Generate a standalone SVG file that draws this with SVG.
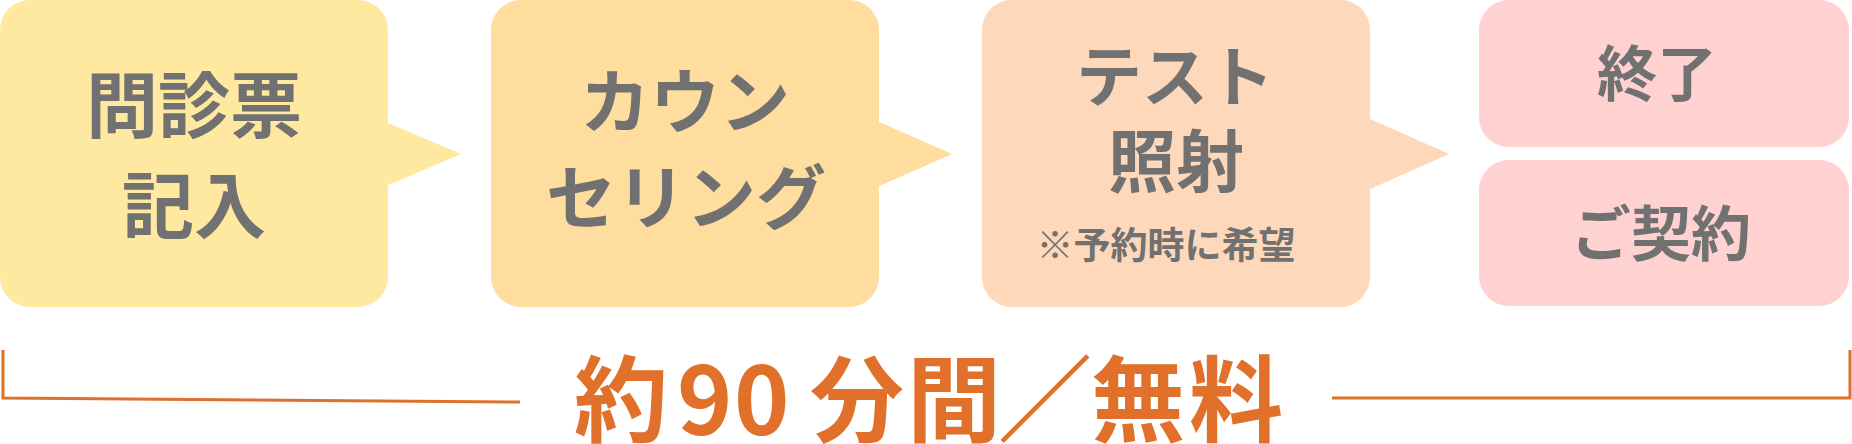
<svg xmlns="http://www.w3.org/2000/svg" width="1852" height="444" viewBox="0 0 1852 444">
<style>
.t{font-family:"Noto Sans CJK JP","Noto Sans CJK SC",sans-serif;font-weight:700;fill:#717171;text-anchor:middle}
.b1{fill:#FFE9A0}.b2{fill:#FEDD9E}.b3{fill:#FDD8BA}.b4{fill:#FFD1D1}
.ln{stroke:#DC712C;stroke-width:3;fill:none}
.big{font-family:"Noto Sans CJK JP","Noto Sans CJK SC",sans-serif;font-weight:700;fill:#E0702A}
</style>
<rect width="1852" height="444" fill="#FFFFFF"/>
<g id="node-monshinhyo">
<rect class="b1" x="0" y="0" width="388" height="307" rx="30"/>
<polygon class="b1" points="386,122 461,154 386,186"/>
<text class="t" x="194" y="132" font-size="72">問診票</text>
<text class="t" x="194" y="232" font-size="72">記入</text>
</g>
<g id="node-counseling">
<rect class="b2" x="491" y="0" width="388" height="307" rx="30"/>
<polygon class="b2" points="877,121 952,154 877,187"/>
<text class="t" x="685" y="128" font-size="70">カウン</text>
<text class="t" x="686" y="224" font-size="70">セリング</text>
</g>
<g id="node-test">
<rect class="b3" x="982" y="0" width="388" height="307" rx="30"/>
<polygon class="b3" points="1368,118 1449,154 1368,190"/>
<text class="t" x="1175" y="101" font-size="66">テスト</text>
<text class="t" x="1176" y="187" font-size="68">照射</text>
<text class="t" x="1166" y="259" font-size="37">※予約時に希望</text>
</g>
<g id="node-end">
<rect class="b4" x="1479" y="0" width="370" height="147" rx="30"/>
<text class="t" x="1657" y="96" font-size="60">終了</text>
</g>
<g id="node-contract">
<rect class="b4" x="1479" y="160" width="370" height="146" rx="30"/>
<text class="t" x="1661" y="256" font-size="60">ご契約</text>
</g>
<g id="connectors">
<polyline class="ln" points="3,350 3,398 520,402"/>
<polyline class="ln" points="1332,398 1850,398 1850,350"/>
</g>
<text class="big" y="435" font-size="94"><tspan x="574">約</tspan><tspan x="677">9</tspan><tspan x="734">0</tspan><tspan x="810">分</tspan><tspan x="907">間</tspan><tspan x="998">／</tspan><tspan x="1091">無</tspan><tspan x="1189">料</tspan></text>
</svg>
